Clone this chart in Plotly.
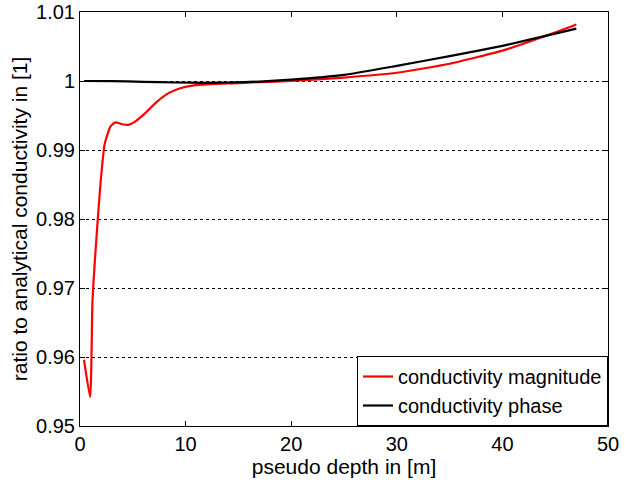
import plotly.graph_objects as go

depth_mag = [0.38, 0.96, 1.18, 1.44, 1.92, 2.33, 2.88, 3.35, 3.99, 4.57, 5.11, 6.23, 7.19, 8.47, 9.5, 10.5, 12.3,
             15.0, 17.0, 20.0, 25.0, 30.0, 35.0, 40.0, 42.0, 44.0, 46.0, 47.0]
ratio_mag = [0.9596, 0.9542, 0.968, 0.9747, 0.9848, 0.9908, 0.9934, 0.9940, 0.99373, 0.99364, 0.9940, 0.99542,
             0.99687, 0.99831, 0.99895, 0.9993, 0.99955,
             0.9997, 0.99985, 1.0000, 1.0005, 1.0012, 1.0025, 1.0044, 1.0054, 1.0065, 1.0076, 1.0082]

depth_phase = [0.38, 3.0, 6.0, 9.0, 12.0, 14.0, 17.0, 20.0, 25.0, 30.0, 35.0, 40.0, 44.0, 47.0]
ratio_phase = [1.0000, 0.99998, 0.99988, 0.99978, 0.99974, 0.99978, 0.99992, 1.0002, 1.0009, 1.0022, 1.0036,
               1.0051, 1.0065, 1.0076]

y_ticks = [0.95, 0.96, 0.97, 0.98, 0.99, 1.0, 1.01]
y_tick_text = ["0.95", "0.96", "0.97", "0.98", "0.99", "1", "1.01"]
x_ticks = [0, 10, 20, 30, 40, 50]

fig = go.Figure()
fig.add_trace(go.Scatter(x=depth_mag, y=ratio_mag, mode="lines", name="conductivity magnitude",
                         line=dict(color="#ff0000", width=2.2, shape="spline", smoothing=0.5)))
fig.add_trace(go.Scatter(x=depth_phase, y=ratio_phase, mode="lines", name="conductivity phase",
                         line=dict(color="#000000", width=2.2, shape="spline", smoothing=0.6)))

fig.update_layout(
    width=625, height=486,
    margin=dict(l=80, r=17, t=12, b=60),
    paper_bgcolor="white", plot_bgcolor="white",
    font=dict(family="Liberation Sans, Arial, sans-serif", size=20, color="black"),
    showlegend=True,
    legend=dict(x=1, y=0, xanchor="right", yanchor="bottom",
                bordercolor="black", borderwidth=1, bgcolor="white",
                font=dict(size=20), tracegroupgap=0, itemwidth=30),
    xaxis=dict(range=[-0.00001, 50.00001], tickvals=x_ticks, showgrid=False, zeroline=False, automargin=False,
               showline=True, linecolor="black", linewidth=1, mirror="ticks",
               ticks="inside", ticklen=5, tickcolor="black", ticklabeloverflow="allow",
               title=dict(text="pseudo depth in [m]", standoff=2, font=dict(size=21))),
    yaxis=dict(range=[0.9499999, 1.0100001], tickvals=y_ticks, ticktext=y_tick_text, automargin=False,
               showgrid=True, gridcolor="black", griddash="dot", gridwidth=1, zeroline=False,
               showline=True, linecolor="black", linewidth=1, mirror="ticks",
               ticks="inside", ticklen=5, tickcolor="black", ticklabeloverflow="allow",
               title=dict(text="ratio to analytical conductivity in [1]", standoff=2, font=dict(size=21))),
)

fig.write_html("out.html")
